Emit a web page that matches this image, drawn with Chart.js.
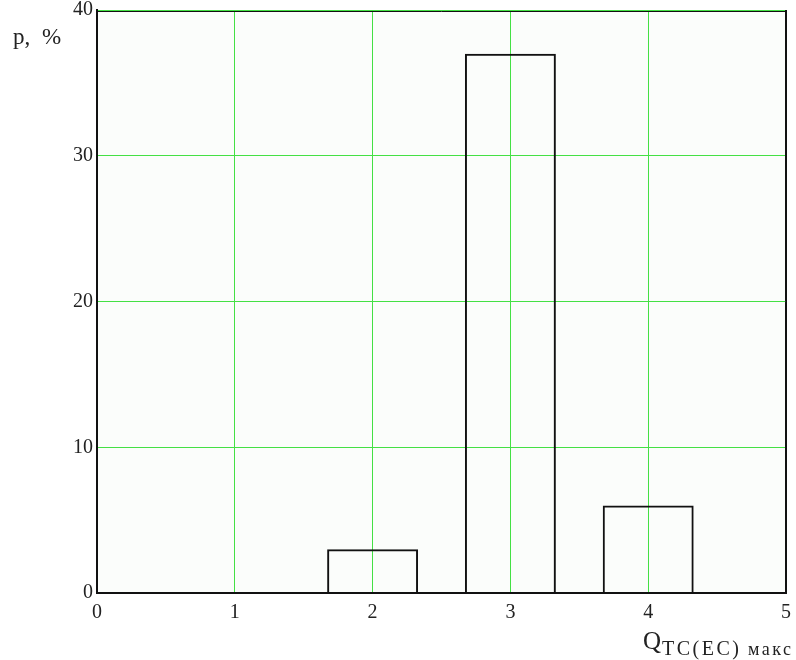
<!DOCTYPE html>
<html>
<head>
<meta charset="utf-8">
<script src="https://cdn.jsdelivr.net/npm/chart.js@4"></script>
<style>
  html, body { margin: 0; padding: 0; background: #ffffff; }
  canvas { display: block; }
</style>
</head>
<body>
<canvas id="c" width="796" height="660"></canvas>
<script>
// ---- data ----
const qValues = [2, 3, 4];          // Q_TC(EC) макс
const pValues = [3, 37, 6];         // p, %
const xTicks = [0, 1, 2, 3, 4, 5];
const yTicks = [0, 10, 20, 30, 40];
const yTitleA = "p,";
const yTitleB = "%";
const xTitleMain = "Q";
const xTitleSub = "TC(EC)";
const xTitleTail = "макс";

const FONT = "'Liberation Serif', 'Times New Roman', serif";
const GRID = '#44e044';

const points = qValues.map((q, i) => ({ x: q, y: pValues[i] }));

const framePlugin = {
  id: 'frame',
  beforeDraw(chart) {
    const { ctx, chartArea: a } = chart;
    ctx.save();
    ctx.fillStyle = '#fbfdfb';
    ctx.fillRect(a.left, a.top, a.right - a.left, a.bottom - a.top);
    ctx.restore();
  },
  afterDraw(chart) {
    const { ctx, chartArea: a } = chart;
    ctx.save();
    ctx.strokeStyle = '#111';
    ctx.lineWidth = 1;
    ctx.beginPath();
    ctx.moveTo(a.left, a.top + 1.5);
    ctx.lineTo(a.right - 0.5, a.top + 1.5);
    ctx.moveTo(a.right - 0.5, a.top);
    ctx.lineTo(a.right - 0.5, a.bottom);
    ctx.stroke();

    ctx.fillStyle = '#222';
    ctx.textBaseline = 'alphabetic';
    ctx.textAlign = 'left';
    // y title
    ctx.font = '23px ' + FONT;
    ctx.fillText(yTitleA, 13, 44);
    ctx.fillText(yTitleB, 42, 44);
    // x title with subscript
    ctx.font = '25px ' + FONT;
    ctx.fillText(xTitleMain, 643, 649);
    ctx.font = '20px ' + FONT;
    ctx.letterSpacing = '2.5px';
    ctx.fillText(xTitleSub, 662, 655);
    ctx.font = '18px ' + FONT;
    ctx.letterSpacing = '2.5px';
    ctx.fillText(xTitleTail, 748, 655);
    ctx.restore();
  }
};

new Chart(document.getElementById('c'), {
  type: 'bar',
  data: {
    datasets: [{
      data: points,
      backgroundColor: 'rgba(0,0,0,0)',
      borderColor: '#111',
      borderWidth: 2,
      barPercentage: 0.66,
      categoryPercentage: 1.0
    }]
  },
  options: {
    responsive: false,
    devicePixelRatio: 1,
    animation: false,
    layout: { padding: { top: 10, right: 10, left: 0, bottom: 0 } },
    plugins: { legend: { display: false }, tooltip: { enabled: false } },
    scales: {
      x: {
        type: 'linear',
        min: 0, max: 5,
        offset: false,
        afterBuildTicks(scale) { scale.ticks = xTicks.map(v => ({ value: v })); },
        afterFit(scale) {
          scale.height = 67;
          scale.paddingLeft = 0; scale.paddingRight = 0;
        },
        ticks: { color: '#222', font: { family: FONT, size: 20 }, padding: 8, maxRotation: 0 },
        grid: {
          offset: false,
          drawTicks: false,
          lineWidth: 1,
          color: (c) => (c.tick && c.tick.value === 5) ? '#111' : GRID
        },
        border: { color: '#111', width: 2 }
      },
      y: {
        min: 0, max: 40,
        afterBuildTicks(scale) { scale.ticks = yTicks.map(v => ({ value: v })); },
        afterFit(scale) {
          scale.width = 97;
          scale.paddingTop = 0; scale.paddingBottom = 0;
        },
        ticks: { color: '#222', font: { family: FONT, size: 20 }, padding: 4 },
        grid: { drawTicks: false, lineWidth: 1, color: GRID },
        border: { color: '#111', width: 2 }
      }
    }
  },
  plugins: [framePlugin]
});
</script>
</body>
</html>
